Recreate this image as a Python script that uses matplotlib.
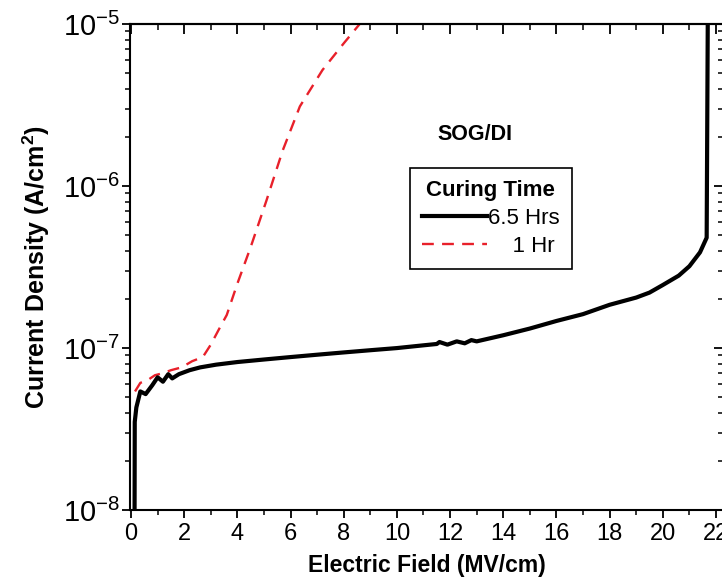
import matplotlib.pyplot as plt
from matplotlib.ticker import MultipleLocator, LogLocator, NullFormatter

plt.rcParams['font.family'] = ['Liberation Sans', 'DejaVu Sans']
plt.rcParams['mathtext.default'] = 'regular'

# 6.5 h cure
field_65 = [0.13, 0.14, 0.2, 0.35, 0.55, 0.8, 1.0, 1.2, 1.4, 1.55, 1.8, 2.2, 2.6, 3.2,
            4.0, 5.0, 6.0, 7.0, 8.0, 9.0, 10.0, 11.0, 11.5, 11.6, 11.9, 12.25, 12.55,
            12.8, 13.0, 14.0, 15.0, 16.0, 17.0, 18.0, 19.0, 19.5, 20.0, 20.6, 21.0,
            21.4, 21.65, 21.7]
jd_65 = [5e-9, 3.5e-8, 4.3e-8, 5.4e-8, 5.2e-8, 5.9e-8, 6.6e-8, 6.2e-8, 6.9e-8, 6.5e-8,
         6.9e-8, 7.3e-8, 7.6e-8, 7.9e-8, 8.2e-8, 8.5e-8, 8.8e-8, 9.1e-8, 9.4e-8, 9.7e-8,
         1.0e-7, 1.04e-7, 1.06e-7, 1.09e-7, 1.05e-7, 1.1e-7, 1.07e-7, 1.12e-7, 1.1e-7,
         1.2e-7, 1.32e-7, 1.47e-7, 1.62e-7, 1.85e-7, 2.05e-7, 2.2e-7, 2.45e-7, 2.8e-7,
         3.2e-7, 3.9e-7, 4.8e-7, 2e-5]

# 1 h cure
field_1 = [0.15, 0.35, 0.6, 0.9, 1.2, 1.5, 1.9, 2.3, 2.7, 3.0, 3.3, 3.6, 4.0, 4.5,
           5.1, 5.7, 6.35, 7.2, 8.0, 8.6]
jd_1 = [5.4e-8, 6.1e-8, 6.3e-8, 6.8e-8, 7.0e-8, 7.3e-8, 7.6e-8, 8.3e-8, 8.8e-8,
        1.05e-7, 1.3e-7, 1.6e-7, 2.5e-7, 4.2e-7, 8.2e-7, 1.65e-6, 3.1e-6, 5.2e-6,
        7.6e-6, 1.0e-5]

xticks = [0, 2, 4, 6, 8, 10, 12, 14, 16, 18, 20, 22]
yticks = [1e-8, 1e-7, 1e-6, 1e-5]
ytick_labels = ['$10^{-8}$', '$10^{-7}$', '$10^{-6}$', '$10^{-5}$']

fig = plt.figure(figsize=(7.22, 5.79), dpi=100)
ax = fig.add_axes([0.18, 0.119, 0.8227, 0.8395])

ax.plot(field_65, jd_65, color='black', lw=3.0, label='6.5 Hrs', zorder=3)
ax.plot(field_1, jd_1, color='#e8202a', lw=1.7, ls=(0, (5, 3.5)), label='    1 Hr')

ax.set_yscale('log')
ax.set_xlim(-0.04, 22.3)
ax.set_ylim(1e-8, 1e-5)

ax.set_xticks(xticks)
ax.xaxis.set_minor_locator(MultipleLocator(1))
ax.set_yticks(yticks)
ax.set_yticklabels(ytick_labels)
ax.yaxis.set_minor_locator(LogLocator(base=10, subs=range(2, 10)))
ax.yaxis.set_minor_formatter(NullFormatter())

for s in ax.spines.values():
    s.set_linewidth(1.5)

ax.tick_params(axis='x', which='major', direction='out', length=6, width=1.3,
               labelsize=17, pad=3, top=False)
ax.tick_params(axis='x', which='minor', direction='out', length=3.5, width=1.1, top=False)
ax.tick_params(axis='y', which='major', direction='out', length=6, width=1.3,
               labelsize=21, pad=1, right=False)
ax.tick_params(axis='y', which='minor', direction='out', length=3.5, width=1.1, right=False)

# mirrored ticks on top and right point into the plot
top = ax.secondary_xaxis('top')
top.set_xticks(xticks)
top.xaxis.set_minor_locator(MultipleLocator(1))
top.tick_params(which='major', direction='in', length=7, width=1.3, labeltop=False)
top.tick_params(which='minor', direction='in', length=4, width=1.1)
top.spines['top'].set_linewidth(1.5)

right = ax.secondary_yaxis('right')
right.set_yticks(yticks)
right.yaxis.set_minor_locator(LogLocator(base=10, subs=range(2, 10)))
right.tick_params(which='major', direction='in', length=7, width=1.3, labelright=False)
right.tick_params(which='minor', direction='in', length=4, width=1.1, labelright=False)
right.yaxis.set_minor_formatter(NullFormatter())

ax.set_xlabel('Electric Field (MV/cm)', fontsize=16.5, fontweight='bold', labelpad=7)
ax.set_ylabel('Current Density (A/cm$^2$)', fontsize=18, fontweight='bold', labelpad=8)

ax.text(0.58, 0.772, 'SOG/DI', transform=ax.transAxes, fontsize=15.5,
        fontweight='bold', ha='center', va='center')

leg = ax.legend(title='Curing Time', loc='upper left',
                bbox_to_anchor=(410 / 722, 1 - 168 / 579), bbox_transform=fig.transFigure,
                borderaxespad=0, fontsize=16, title_fontproperties={'weight': 'bold', 'size': 16},
                handlelength=2.9, handletextpad=0.05, borderpad=0.55, labelspacing=0.3,
                fancybox=False, framealpha=1, edgecolor='black')
leg.get_frame().set_linewidth(1.2)

fig.savefig('out.png', dpi=100)
